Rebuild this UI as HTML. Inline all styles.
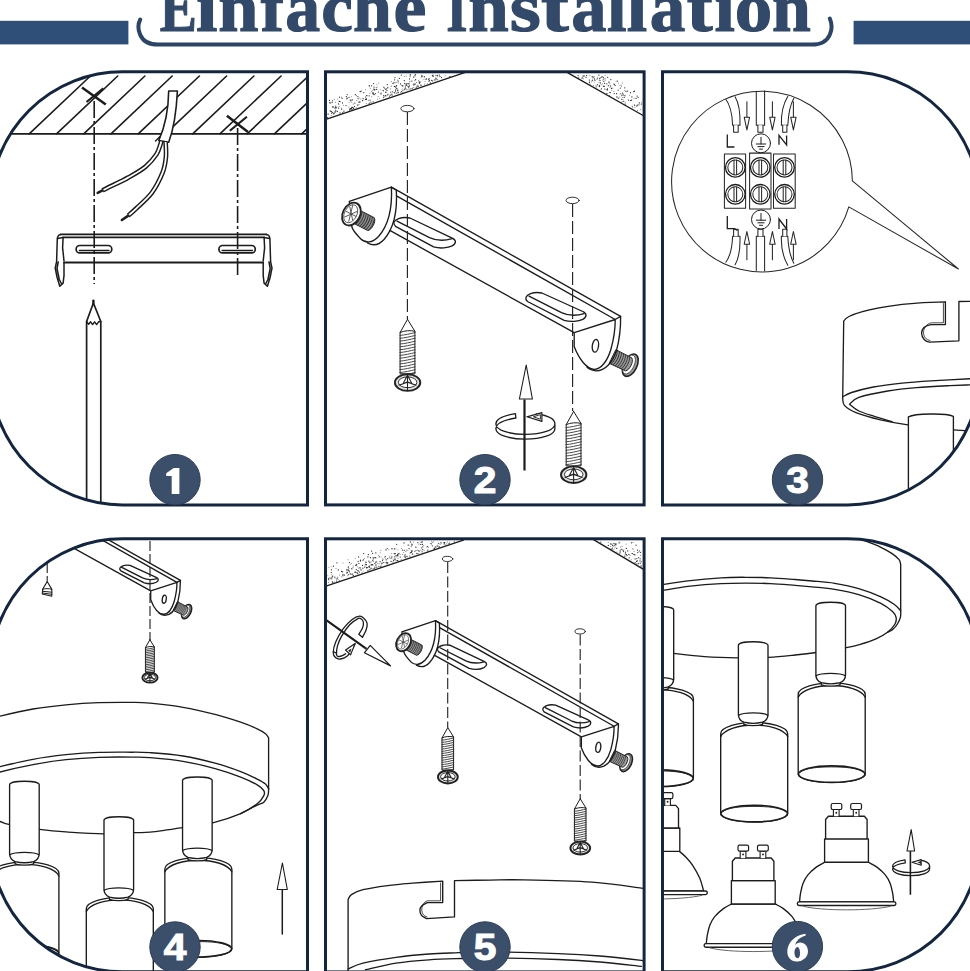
<!DOCTYPE html>
<html><head><meta charset="utf-8"><title>Einfache Installation</title>
<style>
html,body{margin:0;padding:0;background:#fff;}
body{width:970px;height:971px;overflow:hidden;position:relative;font-family:"Liberation Sans",sans-serif;}
svg{position:absolute;left:0;top:0;display:block;}
.ln{vector-effect:non-scaling-stroke;fill:none;stroke:#1c1c1c;stroke-width:1.35;stroke-linecap:round;stroke-linejoin:round;}
.lw{vector-effect:non-scaling-stroke;fill:#fff;stroke:#1c1c1c;stroke-width:1.35;stroke-linecap:round;stroke-linejoin:round;}
.th{fill:none;stroke:#1c1c1c;stroke-width:0.7;stroke-linecap:round;stroke-linejoin:round;}
.frame{fill:none;stroke:#14263f;stroke-width:3;}
.badge{fill:#3b4f6b;stroke:#2c3d55;stroke-width:1;}
.bnum{font-family:"Liberation Sans",sans-serif;font-weight:bold;font-size:36px;fill:#fff;text-anchor:middle;}
</style></head><body>
<svg width="970" height="971" viewBox="0 0 970 971">
<defs>
<clipPath id="c1"><path d="M307.5,71.8H122.4A132,132 0 0 0 -9.6,203.8V372.9A132,132 0 0 0 122.4,504.9H307.5Z"/></clipPath>
<clipPath id="c2"><rect x="325.5" y="71.8" width="318.6" height="433.1"/></clipPath>
<clipPath id="c3"><path d="M662.5,71.8H847.6A132,132 0 0 1 979.6,203.8V372.9A132,132 0 0 1 847.6,504.9H662.5Z"/></clipPath>
<clipPath id="c4"><path d="M307.5,538.8H122.4A132,132 0 0 0 -9.6,670.8V839.8A132,132 0 0 0 122.4,971.8H307.5Z"/></clipPath>
<clipPath id="c5"><rect x="325.5" y="538.8" width="318.6" height="433.1"/></clipPath>
<clipPath id="c6"><path d="M662.5,538.8H847.6A132,132 0 0 1 979.6,670.8V839.8A132,132 0 0 1 847.6,971.8H662.5Z"/></clipPath>
</defs>
<defs>
<g id="wscrew"><path class="lw" style="stroke-width:1" d="M0,0L-7.4,13.2V54.5H7.4V12L0,0Z"/><path class="ln" style="stroke-width:1" d="M-7.4,13.2C-3,11.2 3,10.8 7.4,12"/><path class="ln" style="stroke-width:0.9;stroke:#333" d="M-7.6,16.1C-3,15.9 3,14.3 7.6,13.3M-7.6,19.0C-3,18.8 3,17.2 7.6,16.2M-7.6,21.8C-3,21.6 3,20.0 7.6,19.0M-7.6,24.7C-3,24.5 3,22.9 7.6,21.9M-7.6,27.5C-3,27.3 3,25.7 7.6,24.7M-7.6,30.4C-3,30.2 3,28.6 7.6,27.6M-7.6,33.2C-3,33.0 3,31.4 7.6,30.4M-7.6,36.1C-3,35.9 3,34.3 7.6,33.3M-7.6,38.9C-3,38.7 3,37.1 7.6,36.1M-7.6,41.8C-3,41.6 3,40.0 7.6,39.0M-7.6,44.6C-3,44.4 3,42.8 7.6,41.8M-7.6,47.5C-3,47.3 3,45.7 7.6,44.7M-7.6,50.3C-3,50.1 3,48.5 7.6,47.5M-7.6,53.2C-3,53.0 3,51.4 7.6,50.4M-7.6,56.0C-3,55.8 3,54.2 7.6,53.2"/><ellipse cx="0.1" cy="63.3" rx="12.7" ry="8.3" fill="#e2e2e2" stroke="#222" stroke-width="1.9" vector-effect="non-scaling-stroke"/><ellipse cx="0.1" cy="63" rx="9.3" ry="5.4" fill="#fff" stroke="#333" stroke-width="1" vector-effect="non-scaling-stroke"/><path d="M0,56L-4.5,64.5L0,62.5L4.5,64.5ZM0,56V71M-9,66L0,63L9,66" fill="none" stroke="#222" stroke-width="1.1" vector-effect="non-scaling-stroke"/></g>
<g id="mscrew"><path d="M5,-7.2L22,-7.2C25.5,-5 25.5,5 22,7.2L5,7.2Z" fill="#8f8f8f" stroke="#222" stroke-width="1" vector-effect="non-scaling-stroke"/><path d="M8.5,-7C10.0,-3 10.0,3 8.5,7M10.8,-7C12.3,-3 12.3,3 10.8,7M13.1,-7C14.6,-3 14.6,3 13.1,7M15.4,-7C16.9,-3 16.9,3 15.4,7M17.7,-7C19.2,-3 19.2,3 17.7,7M20.0,-7C21.5,-3 21.5,3 20.0,7M22.3,-7C23.8,-3 23.8,3 22.3,7" fill="none" stroke="#333" stroke-width="0.9"/><ellipse cx="0" cy="0" rx="8.6" ry="12" fill="#fff" stroke="#222" stroke-width="1.8" vector-effect="non-scaling-stroke"/><ellipse cx="-0.8" cy="0" rx="6.2" ry="9.6" fill="none" stroke="#444" stroke-width="0.8"/><path d="M-5,-6L4,5M-5,6L4,-5M-6.5,0L5.5,0M-3,-9L1,8" fill="none" stroke="#444" stroke-width="0.8"/></g>
<g id="mscrew2"><ellipse cx="19.8" cy="0" rx="6.6" ry="12" fill="#9a9a9a" stroke="#222" stroke-width="1.6" vector-effect="non-scaling-stroke"/><ellipse cx="18.3" cy="0" rx="5.2" ry="10.2" fill="#fff" stroke="#333" stroke-width="0.8" vector-effect="non-scaling-stroke"/><path d="M0,-7.6L18,-7.2C21.5,-5 21.5,5 18,7.2L0,7.6Z" fill="#9a9a9a" stroke="#222" stroke-width="1" vector-effect="non-scaling-stroke"/><path d="M2.0,-7.2C3.5,-3 3.5,3 2.0,7.2M4.3,-7.2C5.8,-3 5.8,3 4.3,7.2M6.6,-7.2C8.1,-3 8.1,3 6.6,7.2M8.9,-7.2C10.4,-3 10.4,3 8.9,7.2M11.2,-7.2C12.7,-3 12.7,3 11.2,7.2M13.5,-7.2C15.0,-3 15.0,3 13.5,7.2M15.8,-7.2C17.3,-3 17.3,3 15.8,7.2" fill="none" stroke="#333" stroke-width="0.9"/></g>
<g id="brk"><path class="lw" d="M391.4,187.2L620.6,316.4L615.2,319.5L574.2,332.7L389.8,230.4Z" style="stroke:none"/><path class="lw" d="M349.3,201.3L391.4,187.2C392.3,205 389.5,224 378.5,236.5C372,243.5 365,243.2 360.6,238.8C356,234 352.5,229.5 351.9,227Z"/><path class="ln" d="M391.4,187.2L396.3,190.3C397.3,207 395,227 384,239.5C378,246 372,245.5 367.5,242.8"/><path class="ln" d="M391.4,187.2L620.6,316.4M396.5,195.8L615.2,319.5M389.8,230.4L574.2,332.7"/><path class="ln" d="M395.5,226.3C392.5,223.5 393.5,220.5 398.6,218.6C402,217.4 406,217.2 409.9,218L452.2,238.1C456.5,240 456.5,243.5 452.2,245.9C448,248 440,248.8 433.6,246.9Z"/><path class="ln" d="M397,221.1L429.5,237.6C435,240.2 444,241 452.2,238.7"/><path class="ln" d="M527.5,301.5C524.5,298.7 525.5,295.5 530.6,293.6C534,292.4 538,292.2 541.9,293L582.8,311.5C587.1,313.4 587.1,316.9 582.8,319.3C578.6,321.4 570.6,322.2 564.2,320.3Z"/><path class="ln" d="M529,296.1L561.5,312.6C567,315.2 576,316 584.2,313.7"/><path class="lw" d="M574.2,332.7L615.2,319.5C615.3,326 614,338 611,349C607.5,361 601,369.5 594,369.3C586,368.8 578.5,358 574.2,346.6Z"/><path class="ln" d="M615.2,319.5L620.6,316.4C620.8,326 619.5,339 616.5,350.5C612.5,362.5 605,371 596,370.8C592,370.6 589,369 587,367.3"/><ellipse class="ln" cx="595.4" cy="345.8" rx="3.1" ry="6.4" transform="rotate(8 595.4 345.8)"/></g>
</defs>
<defs>
<g id="lamp"><g transform="translate(1,0)"><path class="lw" d="M-33.5,92C-33.5,85 -15,80.6 0,80.6C15,80.6 33.5,85 33.5,92V171.8C33.5,176.4 18.5,180.1 0,180.1C-18.5,180.1 -33.5,176.4 -33.5,171.8Z"/><path class="ln" d="M-33.5,94.8C-30,87.5 -15,83.2 0,83.2C15,83.2 30,87.5 33.5,94.8"/><ellipse class="lw" style="stroke-width:1.7" cx="0" cy="171.8" rx="33.3" ry="8.3"/><path class="ln" style="stroke-width:0.9" d="M-31.5,170C-27,165.5 -12,164.6 0,164.6C12,164.6 27,165.5 31.5,170"/></g><path class="lw" d="M-9.3,79V82.6C-5,84.3 5,84.3 9.3,82.6V79Z"/><path class="ln" style="stroke-width:0.8" d="M-7,80.6C-3,79.4 3,79.4 7,80.6"/><path class="lw" d="M-14.8,3.6C-14.8,-1.2 14.8,-1.2 14.8,3.6V72.6C14.8,76.5 12.5,79 9.3,80.4C3,82 -3,82 -9.3,80.4C-12.5,79 -14.8,76.5 -14.8,72.6Z"/><path class="ln" d="M-14.6,73.5C-10,70.3 10,70.3 14.6,73.5"/></g>
</defs>
<defs>
<g id="bulb"><path class="lw" d="M-22,22.6H21.8V46H-22Z"/><path class="lw" d="M-21,22.6V3.2L-18.2,0H17.8L20.5,3.2V22.6Z"/><rect class="lw" x="-49.3" y="85.6" width="98.6" height="3.6" rx="1.8"/><path class="ln" style="stroke:#666;stroke-width:1" d="M-43.6,89.9C-25,94.8 25,94.8 44,89.9"/><path class="lw" style="stroke-width:1.1" d="M-13.2,0V-6.8H-7.5V0M6.7,0V-6.8H12.4V0"/><rect class="lw" style="stroke-width:1.2" x="-15.4" y="-12.8" width="10.6" height="6" rx="1.6"/><rect class="lw" style="stroke-width:1.2" x="4.1" y="-12.8" width="10.8" height="6" rx="1.6"/><circle cx="-10.3" cy="-3.6" r="0.95" fill="#222"/><circle cx="9.6" cy="-3.6" r="0.95" fill="#222"/></g>
</defs>
<!-- title -->
<rect x="0" y="20.8" width="128.4" height="23.6" fill="#2f4f78"/>
<rect x="853.6" y="20.8" width="116.4" height="23.6" fill="#2f4f78"/>
<path d="M140.2,19.5C136.5,27 138,44.6 158,44.6H812C832,44.6 833.5,27 829.8,18.5" fill="none" stroke="#2c4566" stroke-width="4" stroke-linecap="round"/>
<g font-family="Liberation Serif, serif" font-weight="bold" font-size="70" fill="#33496a" stroke="#33496a" stroke-width="1.2">
<text transform="translate(159.82,30.6) scale(0.796,1)">E</text>
<text transform="translate(196.01,30.6) scale(1.099,1)">i</text>
<text transform="translate(218.36,30.6) scale(1.032,1)">n</text>
<text transform="translate(260.70,30.6) scale(0.996,1)">f</text>
<text transform="translate(285.21,30.6) scale(0.997,1)">a</text>
<text transform="translate(321.37,30.6) scale(1.018,1)">c</text>
<text transform="translate(352.90,30.6) scale(0.997,1)">h</text>
<text transform="translate(393.60,30.6) scale(1.057,1)">e</text>
<text transform="translate(446.29,30.6) scale(0.781,1)">I</text>
<text transform="translate(468.15,30.6) scale(1.040,1)">n</text>
<text transform="translate(509.79,30.6) scale(1.142,1)">s</text>
<text transform="translate(541.10,30.6) scale(1.190,1)">t</text>
<text transform="translate(571.19,30.6) scale(1.006,1)">a</text>
<text transform="translate(607.00,30.6) scale(1.006,1)">l</text>
<text transform="translate(626.76,30.6) scale(1.050,1)">l</text>
<text transform="translate(649.77,30.6) scale(1.015,1)">a</text>
<text transform="translate(686.85,30.6) scale(1.108,1)">t</text>
<text transform="translate(714.56,30.6) scale(1.044,1)">i</text>
<text transform="translate(734.65,30.6) scale(1.071,1)">o</text>
<text transform="translate(771.90,30.6) scale(0.997,1)">n</text>
</g>
<!-- panel 1 -->
<g clip-path="url(#c1)">
<path class="ln" style="stroke-width:1.6" d="M1.9,133.9L63.2,76M29.2,133.9L90.4,76M56.5,133.9L117.7,76M83.7,133.9L144.9,76M111.0,133.9L172.2,76M138.2,133.9L199.4,76M165.4,133.9L226.6,76M192.7,133.9L253.9,76M219.9,133.9L281.1,76M247.2,133.9L308.4,76M274.4,133.9L335.6,76M301.7,133.9L362.9,76M328.9,133.9L390.1,76"/>
<path class="ln" style="stroke-width:1.8" d="M0,133.9H307"/>
<path class="ln" style="stroke-width:2.5;stroke-linecap:butt" d="M82,87.6L105.8,104.4M226.9,115.8L248,132"/>
<path class="ln" style="stroke-width:2.1;stroke-linecap:butt" d="M86.5,102L103.3,88.4M229.8,130.8L246.9,116.8"/>
<path class="ln" style="stroke-width:1.6;stroke-dasharray:17 3 3 3;stroke-linecap:butt" d="M94.2,101V284M237.6,128V278"/>
<path class="lw" style="stroke-width:1.6" d="M168.7,91C168.5,105 167,122 158.8,140.5L168.7,142.3C174,128 176.5,110 177.4,91Z"/>
<path class="ln" style="stroke-width:1.5" d="M160,136.5L155.5,141"/>
<path d="M161.2,141.5C161.0,142.1 161.1,142.8 160.3,144.9C159.5,147.0 158.9,150.6 156.5,154.2C154.1,157.8 150.2,162.7 145.6,166.6C140.9,170.5 135.0,173.8 128.6,177.4C122.2,181.0 111.3,186.0 107.0,188.2C102.7,190.4 103.2,190.0 102.5,190.4" fill="none" stroke="#1c1c1c" stroke-width="4.7" stroke-linecap="butt"/>
<path d="M161.2,141.5C161.0,142.1 161.1,142.8 160.3,144.9C159.5,147.0 158.9,150.6 156.5,154.2C154.1,157.8 150.2,162.7 145.6,166.6C140.9,170.5 135.0,173.8 128.6,177.4C122.2,181.0 111.3,186.0 107.0,188.2C102.7,190.4 103.2,190.0 102.5,190.4" fill="none" stroke="#fff" stroke-width="1.8" stroke-linecap="butt"/>
<path d="M102.5,190.4L97.7,192.8" fill="none" stroke="#1c1c1c" stroke-width="2.6" stroke-linecap="round"/>
<path d="M165.6,142.0C165.7,144.6 166.4,152.2 165.9,157.3C165.4,162.4 164.9,166.8 162.6,172.7C160.2,178.6 156.2,186.9 151.8,192.8C147.4,198.7 140.3,204.5 136.4,208.3C132.5,212.1 129.7,214.4 128.3,215.6" fill="none" stroke="#1c1c1c" stroke-width="4.7" stroke-linecap="butt"/>
<path d="M165.6,142.0C165.7,144.6 166.4,152.2 165.9,157.3C165.4,162.4 164.9,166.8 162.6,172.7C160.2,178.6 156.2,186.9 151.8,192.8C147.4,198.7 140.3,204.5 136.4,208.3C132.5,212.1 129.7,214.4 128.3,215.6" fill="none" stroke="#fff" stroke-width="1.8" stroke-linecap="butt"/>
<path d="M128.3,215.6L121.9,220" fill="none" stroke="#1c1c1c" stroke-width="2.6" stroke-linecap="round"/>
<path class="ln" style="stroke-width:1.8" d="M60.8,234.4H266.4M63.1,237.4H264.1M64,262.5H263.2"/>
<path class="ln" style="stroke-width:1.5" d="M60.8,234.4C58.3,234.8 57.5,236 57.3,238.5L56.6,261.7L55.2,268.2L57.1,277.5L59.8,286.3L63.1,283.1L64,275.7V262.5M63.1,237.4L62.6,247.8L64,260.8M58.2,262L57,268.5L59.3,279.5L61.6,284M57.8,238.5L62.8,237.6"/>
<g transform="translate(327.2,0) scale(-1,1)"><path class="ln" style="stroke-width:1.5" d="M60.8,234.4C58.3,234.8 57.5,236 57.3,238.5L56.6,261.7L55.2,268.2L57.1,277.5L59.8,286.3L63.1,283.1L64,275.7V262.5M63.1,237.4L62.6,247.8L64,260.8M58.2,262L57,268.5L59.3,279.5L61.6,284M57.8,238.5L62.8,237.6"/></g>
<rect class="ln" style="stroke-width:1.7" x="76.1" y="245.5" width="35.7" height="7.4" rx="3.7"/>
<path class="ln" style="stroke-width:1.3" d="M79.3,250.5H109.0"/>
<rect class="ln" style="stroke-width:1.7" x="218.9" y="245.5" width="36.4" height="7.4" rx="3.7"/>
<path class="ln" style="stroke-width:1.3" d="M222.1,250.5H252.5"/>
<path class="lw" style="stroke-width:1.7" d="M86.6,520V321.5L93.4,303L100.8,321.5V520"/>
<path class="ln" style="stroke-width:1.4" d="M86.6,321.5L88.6,324.3L90.6,321.8L92.6,324.6L94.6,321.8L96.6,324.6L98.6,321.8L100.8,321.5"/>
<path class="ln" style="stroke-width:2.4" d="M93.4,303V300.6"/>
</g>
<!-- panel 2 -->
<g clip-path="url(#c2)">
<path d="M385.7,89.3h.01M404.6,83.5h.01M392.9,83.6h.01M363.8,92.6h.01M415.0,83.9h.01M397.7,90.2h.01M352.0,109.4h.01M386.3,88.9h.01M369.2,103.2h.01M361.1,91.0h.01M373.6,83.5h.01M387.8,87.5h.01M429.3,78.8h.01M385.9,92.2h.01M410.3,74.7h.01M366.3,99.6h.01M413.4,84.8h.01M370.9,102.0h.01M405.3,87.8h.01M437.4,75.4h.01M351.5,108.2h.01M408.1,86.5h.01M406.1,83.9h.01M349.8,109.6h.01M409.5,85.9h.01M385.7,92.4h.01M404.3,89.6h.01M401.3,75.1h.01M424.3,76.5h.01M408.0,83.7h.01M410.1,76.1h.01M391.8,94.2h.01M353.6,108.4h.01M370.0,100.1h.01M366.9,95.7h.01M362.4,100.7h.01M352.4,99.8h.01M402.8,86.0h.01M339.5,97.2h.01M328.0,114.1h.01M419.5,83.2h.01M390.7,95.1h.01M394.0,82.7h.01M340.0,101.5h.01M414.8,84.5h.01M434.7,79.9h.01M334.9,108.0h.01M401.6,91.5h.01M334.0,113.7h.01M433.1,76.3h.01M392.7,91.8h.01M398.3,92.6h.01M400.5,83.9h.01M374.8,89.7h.01M352.9,107.3h.01M396.8,93.0h.01M420.1,82.1h.01M395.0,77.5h.01M387.3,84.7h.01M383.2,90.4h.01M351.9,107.4h.01M340.0,113.0h.01M358.9,102.2h.01M396.5,85.6h.01M397.9,90.3h.01M351.0,100.2h.01M366.7,95.6h.01M343.9,111.2h.01M383.7,97.6h.01M419.1,81.9h.01M394.6,92.6h.01M338.6,108.1h.01M398.2,81.0h.01M350.9,108.7h.01M441.6,77.5h.01M389.5,96.1h.01M394.4,86.4h.01M350.4,108.8h.01M426.5,78.9h.01M395.6,91.1h.01M409.5,78.9h.01M332.7,107.1h.01M412.0,88.7h.01M357.9,96.7h.01M331.7,113.2h.01M332.0,102.5h.01M346.0,105.6h.01M410.1,88.9h.01M406.8,85.2h.01M363.1,98.6h.01M421.8,75.4h.01M327.6,117.7h.01M429.4,80.5h.01M333.2,107.1h.01M355.3,94.7h.01M387.9,94.4h.01M331.4,111.5h.01M418.0,86.4h.01M432.4,75.7h.01M404.3,80.7h.01M333.5,113.8h.01M383.6,95.6h.01M334.7,112.1h.01M415.3,74.7h.01M390.7,92.1h.01M373.1,101.8h.01M431.5,80.3h.01M371.6,85.8h.01M335.6,111.8h.01M399.3,78.4h.01M432.7,80.9h.01M354.6,106.5h.01M374.2,94.7h.01M385.5,95.4h.01M449.7,76.5h.01M373.2,92.9h.01M360.1,91.7h.01M329.4,100.3h.01M436.2,78.8h.01M373.8,89.1h.01M332.7,112.3h.01M338.4,103.8h.01M330.1,103.1h.01M405.9,89.1h.01M350.8,108.5h.01M357.5,105.0h.01M347.3,98.0h.01M349.5,110.0h.01M435.8,78.1h.01M416.6,87.0h.01M408.7,87.2h.01M395.7,89.8h.01M342.1,98.3h.01M332.5,100.8h.01M422.1,76.5h.01M337.3,111.4h.01M396.7,88.4h.01M440.0,76.6h.01M365.6,97.0h.01M421.9,76.3h.01M376.7,89.4h.01M387.0,90.6h.01M409.1,83.8h.01M375.3,93.5h.01M359.7,101.9h.01M335.8,106.2h.01M336.7,107.8h.01M406.0,85.3h.01M341.7,109.2h.01M332.9,106.7h.01M381.0,93.9h.01M413.7,77.2h.01M369.1,95.8h.01M374.3,89.9h.01M433.1,75.9h.01M394.2,92.5h.01M349.0,97.3h.01M335.8,110.3h.01M373.2,93.9h.01M439.3,75.1h.01M346.8,98.8h.01M374.0,87.0h.01M350.3,100.2h.01M342.5,102.9h.01M395.1,86.5h.01M402.3,85.5h.01M414.9,75.8h.01M421.0,85.4h.01M428.5,79.2h.01M339.1,101.3h.01M398.0,92.0h.01M366.4,98.9h.01M342.8,112.6h.01M365.4,99.3h.01M329.9,102.4h.01M330.3,111.1h.01M369.3,85.7h.01M347.2,94.5h.01M383.9,87.2h.01M354.9,103.0h.01M346.3,96.7h.01M415.6,79.7h.01M411.8,81.0h.01M394.6,79.8h.01M335.5,107.7h.01M430.4,82.9h.01M429.0,81.2h.01M372.6,93.0h.01" fill="none" stroke="#2a2a2a" stroke-width="1.25" stroke-linecap="round"/><path d="M437.6,79.6h.01M386.0,95.6h.01M395.4,87.4h.01M353.2,104.1h.01M412.5,87.9h.01M360.7,98.9h.01M359.0,104.4h.01M349.7,108.3h.01M383.4,97.1h.01M406.7,83.5h.01M390.3,88.7h.01M445.1,75.8h.01M358.1,105.3h.01M402.1,88.9h.01M372.1,90.3h.01M426.1,78.8h.01M426.3,79.4h.01M369.3,86.7h.01M433.0,74.7h.01M403.0,85.4h.01M427.3,83.3h.01M386.1,95.9h.01M328.7,113.9h.01M406.2,75.9h.01M358.6,98.9h.01M435.6,75.6h.01M391.4,86.1h.01M409.8,81.3h.01M387.7,95.2h.01M331.1,115.5h.01M330.2,110.4h.01M384.5,88.6h.01M371.7,96.8h.01M409.9,81.8h.01M423.9,79.3h.01M351.3,96.7h.01M341.4,97.1h.01M420.7,84.7h.01M424.3,77.3h.01M394.9,93.2h.01M368.5,100.3h.01M370.3,88.2h.01M409.1,85.8h.01M436.3,75.4h.01M334.2,99.4h.01M350.8,100.9h.01M338.8,104.4h.01M404.3,76.4h.01M436.9,79.8h.01M376.9,84.7h.01M387.8,88.1h.01M414.7,80.5h.01M395.9,82.6h.01M357.7,98.5h.01M398.6,83.0h.01M413.7,87.4h.01M450.1,76.4h.01M437.7,76.7h.01M359.3,98.0h.01M397.7,89.0h.01M339.2,106.5h.01M418.6,80.4h.01M356.4,95.6h.01M337.6,99.0h.01M397.4,80.1h.01M384.0,95.7h.01M425.1,81.4h.01M363.1,99.9h.01M378.6,92.5h.01M378.1,96.4h.01M396.9,82.2h.01M401.4,85.4h.01M393.4,83.1h.01M414.9,84.8h.01M335.4,110.0h.01M343.4,105.2h.01M415.6,87.9h.01M395.8,87.7h.01M376.2,87.6h.01M391.0,86.2h.01M421.1,77.3h.01M416.5,82.5h.01M380.9,89.8h.01M351.8,102.2h.01M391.7,94.8h.01M369.9,93.1h.01M392.4,95.3h.01M396.4,86.6h.01M435.6,79.7h.01M360.2,101.9h.01M405.4,86.2h.01M381.5,93.0h.01M377.4,99.2h.01M379.4,98.2h.01M403.2,90.8h.01M377.1,86.9h.01M413.9,83.6h.01M378.6,91.8h.01M424.5,84.1h.01M404.7,88.8h.01M341.3,107.9h.01M400.7,92.2h.01M402.7,90.5h.01M341.5,109.4h.01M356.8,100.6h.01M418.1,85.3h.01M380.7,93.2h.01M383.4,90.9h.01M385.0,96.4h.01M365.5,89.8h.01M425.5,79.3h.01M394.6,92.6h.01M378.8,83.1h.01M356.3,107.8h.01M335.4,102.2h.01M371.7,91.6h.01M366.3,103.6h.01M348.3,107.0h.01M340.0,112.3h.01M421.4,75.9h.01M417.1,85.2h.01M407.1,89.8h.01M408.3,88.9h.01M349.1,102.5h.01M402.7,92.4h.01M391.3,81.6h.01" fill="none" stroke="#777" stroke-width="1.05" stroke-linecap="round"/><path class="ln" d="M464.6,72.6L326,119.4"/>
<path d="M608.3,85.7h.01M621.8,95.1h.01M641.3,104.0h.01M637.1,96.1h.01M601.4,88.9h.01M583.3,76.0h.01M618.1,90.0h.01M623.2,94.9h.01M610.7,86.0h.01M636.1,98.4h.01M603.3,86.1h.01M631.9,96.9h.01M624.9,95.7h.01M593.2,77.3h.01M608.9,82.0h.01M589.4,82.5h.01M606.9,93.3h.01M631.6,100.1h.01M614.3,84.4h.01M636.8,106.1h.01M627.6,91.0h.01M638.9,104.8h.01M633.7,91.7h.01M599.7,78.4h.01M600.4,82.9h.01M615.1,85.6h.01M610.5,92.5h.01M603.8,81.6h.01M621.8,99.3h.01M622.7,93.2h.01M607.3,89.9h.01M584.2,75.9h.01M586.6,75.5h.01M624.2,97.3h.01M610.8,79.5h.01M597.4,78.0h.01M578.7,77.8h.01M598.9,75.0h.01M592.2,76.6h.01M611.6,88.4h.01M638.1,97.3h.01M630.5,92.7h.01M639.3,102.9h.01M582.0,78.2h.01M623.7,101.3h.01M620.3,88.1h.01M606.8,83.8h.01M626.0,91.4h.01M604.6,83.3h.01M600.0,80.5h.01M607.5,88.9h.01M602.1,76.7h.01M599.6,85.3h.01M625.1,104.0h.01M614.2,93.6h.01M594.9,80.1h.01M604.9,89.1h.01M586.0,77.3h.01M594.4,78.8h.01M604.3,86.4h.01M599.5,86.5h.01M597.4,84.5h.01M601.0,77.5h.01M607.7,77.3h.01M589.4,80.8h.01M578.1,75.6h.01M603.4,77.5h.01M616.6,93.7h.01M634.5,91.1h.01M618.3,98.2h.01M596.1,86.8h.01M634.7,105.3h.01M624.8,87.8h.01M592.3,80.6h.01M628.5,100.0h.01M616.9,96.8h.01M617.4,81.0h.01M637.3,105.1h.01M630.5,100.6h.01" fill="none" stroke="#2a2a2a" stroke-width="1.25" stroke-linecap="round"/><path d="M598.2,85.9h.01M622.6,83.0h.01M602.4,83.7h.01M594.2,81.9h.01M605.1,75.5h.01M621.7,95.7h.01M589.9,75.6h.01M594.1,76.6h.01M582.9,76.1h.01M599.0,82.5h.01M617.0,97.4h.01M590.3,83.9h.01M618.5,83.0h.01M619.9,85.5h.01M625.2,102.3h.01M637.5,110.4h.01M641.6,102.1h.01M599.4,79.9h.01M622.9,99.2h.01M597.0,79.5h.01M609.0,81.9h.01M632.5,106.4h.01M604.2,78.8h.01M624.7,90.2h.01M596.1,85.3h.01M609.8,95.4h.01M591.6,81.7h.01M621.3,84.9h.01M620.7,93.4h.01M605.1,80.3h.01M601.3,84.7h.01M582.3,77.5h.01M595.0,80.3h.01M619.7,97.0h.01M609.2,82.8h.01M602.8,80.1h.01M592.5,78.9h.01M610.2,85.4h.01M605.4,78.7h.01M622.8,97.5h.01M606.4,89.2h.01M621.4,86.2h.01M632.1,106.1h.01M629.4,95.2h.01M613.6,83.7h.01M589.3,79.4h.01M632.7,107.7h.01M620.0,94.0h.01M609.9,83.8h.01M616.1,81.2h.01M610.0,87.6h.01M603.4,79.5h.01M634.9,107.2h.01M583.5,78.7h.01M611.7,90.3h.01M634.2,104.6h.01M613.9,91.4h.01M609.8,92.5h.01M634.0,98.2h.01M609.5,92.5h.01M612.8,88.1h.01M593.9,77.2h.01M621.8,102.1h.01M593.4,85.4h.01M640.8,109.6h.01M622.8,101.3h.01M623.7,94.8h.01" fill="none" stroke="#777" stroke-width="1.05" stroke-linecap="round"/><path class="ln" d="M567.9,72.8L644,116"/>
<ellipse class="ln" style="stroke-width:0.9" cx="407.4" cy="108.6" rx="6.6" ry="3.2"/><ellipse class="ln" style="stroke-width:0.9" cx="572.6" cy="200.4" rx="6.6" ry="3.2"/>
<use href="#mscrew2" transform="translate(612.5,356.5) rotate(26)"/>
<use href="#brk"/>
<use href="#mscrew" transform="translate(351.4,214.1) rotate(27)"/>
<path class="ln" style="stroke-width:1.15;stroke-dasharray:13 4;stroke-linecap:butt;stroke:#262626" d="M407.4,112V319M572.6,204V411"/>
<use href="#wscrew" transform="translate(407.5,319.3)"/>
<use href="#wscrew" transform="translate(573.6,411.4)"/>
<path class="ln" style="stroke-width:2.2;stroke-linecap:butt" d="M524.5,399.5V470.5"/>
<path class="lw" style="stroke-width:1.1" d="M526.2,365L519.4,399H532.4Z"/>
<g transform="translate(-0.6,-2.6)"><path class="ln" style="stroke-width:1.3" d="M516,416.2C504,418.3 496.5,422 496.5,426.5C496.5,432.5 509.5,437 526,437C542.5,437 555.5,432.5 555.5,426.5C555.5,421.5 548,417.8 537,416.4M516.5,420.6C506,422.4 496.5,426 496.5,431.3C496.5,437.3 509.5,441.8 526,441.8C542.5,441.8 555.5,437.3 555.5,431.3V426.5M516,416.2L516.5,420.6"/><path class="lw" style="stroke-width:1.2" d="M527.5,419.4L542.5,415.2V424Z"/><path d="M534,419.4L541,417.2V421.8Z" fill="none" stroke="#1c1c1c" stroke-width="0.9"/></g>
</g>
<!-- panel 3 -->
<g clip-path="url(#c3)">
<clipPath id="cc3"><circle cx="763.9" cy="180.8" r="90.4"/></clipPath>
<g clip-path="url(#cc3)">
<path class="lw" style="stroke-width:1.05;stroke:#262626" d="M725.5,98.7C730.5,105.2 732.3,116.2 732.6,125.2H740.0C740.3,115.2 739.0,103.2 735.1,96.7"/>
<path class="lw" style="stroke-width:1.05;stroke:#262626" d="M756.3,90.2V125.2H764.6V90.2"/>
<path class="lw" style="stroke-width:1.05;stroke:#262626" d="M787.8,96.2C782.5,105.2 781.0,116.2 781.4,125.2H787.8C788.3,115.2 790.0,105.2 793.8,98.2"/>
<path class="lw" style="stroke-width:1.05;stroke:#262626" d="M733.6,125.2V132.2H738.2V125.2"/>
<path class="lw" style="stroke-width:1.05;stroke:#262626" d="M757.9,125.2V132.2H763V125.2"/>
<path class="lw" style="stroke-width:1.05;stroke:#262626" d="M782.7,125.2V132.2H786.9V125.2"/>
<path class="ln" style="stroke-width:1.05;stroke:#262626" d="M746.9,101.7V117.2"/>
<path class="lw" style="stroke-width:1.05;stroke:#262626" d="M744.2,117.2H749.6L746.9,129.9Z"/>
<path class="ln" style="stroke-width:1.05;stroke:#262626" d="M772.4,101.7V117.2"/>
<path class="lw" style="stroke-width:1.05;stroke:#262626" d="M769.7,117.2H775.1L772.4,129.9Z"/>
<path class="ln" style="stroke-width:1.05;stroke:#262626" d="M793.4,101.7V117.2"/>
<path class="lw" style="stroke-width:1.05;stroke:#262626" d="M790.7,117.2H796.1L793.4,129.9Z"/>
<path class="lw" style="stroke-width:1.05;stroke:#262626" d="M725.5,262.7C730.5,256.2 732.3,245.2 732.6,236.2H740.0C740.3,246.2 739.0,258.2 735.1,264.7"/>
<path class="lw" style="stroke-width:1.05;stroke:#262626" d="M756.3,271.2V236.2H764.6V271.2"/>
<path class="lw" style="stroke-width:1.05;stroke:#262626" d="M787.8,265.2C782.5,256.2 781.0,245.2 781.4,236.2H787.8C788.3,246.2 790.0,256.2 793.8,263.2"/>
<path class="lw" style="stroke-width:1.05;stroke:#262626" d="M733.6,236.2V229.2H738.2V236.2"/>
<path class="lw" style="stroke-width:1.05;stroke:#262626" d="M757.9,236.2V229.2H763V236.2"/>
<path class="lw" style="stroke-width:1.05;stroke:#262626" d="M782.7,236.2V229.2H786.9V236.2"/>
<path class="ln" style="stroke-width:1.05;stroke:#262626" d="M746.9,259.7V244.2"/>
<path class="lw" style="stroke-width:1.05;stroke:#262626" d="M744.2,244.2H749.6L746.9,231.5Z"/>
<path class="ln" style="stroke-width:1.05;stroke:#262626" d="M772.4,259.7V244.2"/>
<path class="lw" style="stroke-width:1.05;stroke:#262626" d="M769.7,244.2H775.1L772.4,231.5Z"/>
<path class="ln" style="stroke-width:1.05;stroke:#262626" d="M793.4,259.7V244.2"/>
<path class="lw" style="stroke-width:1.05;stroke:#262626" d="M790.7,244.2H796.1L793.4,231.5Z"/>
</g>
<path class="ln" style="stroke-width:1.05;stroke:#262626" d="M724.4,154H745.6V208.3H724.4ZM749.6,153.1H771V209H749.6ZM773.5,154H795.2V208.3H773.5Z"/>
<circle class="ln" style="stroke-width:1.3" cx="735.3" cy="167.4" r="9.8"/><circle class="ln" style="stroke-width:1.05;stroke:#262626" cx="735.3" cy="167.4" r="7.5"/><path class="ln" style="stroke-width:1.05;stroke:#262626" d="M734.0,160.0V174.8M736.6,160.0V174.8"/>
<circle class="ln" style="stroke-width:1.3" cx="735.3" cy="194.3" r="9.8"/><circle class="ln" style="stroke-width:1.05;stroke:#262626" cx="735.3" cy="194.3" r="7.5"/><path class="ln" style="stroke-width:1.05;stroke:#262626" d="M734.0,186.9V201.7M736.6,186.9V201.7"/>
<circle class="ln" style="stroke-width:1.3" cx="760.3" cy="167.4" r="9.8"/><circle class="ln" style="stroke-width:1.05;stroke:#262626" cx="760.3" cy="167.4" r="7.5"/><path class="ln" style="stroke-width:1.05;stroke:#262626" d="M759.0,160.0V174.8M761.6,160.0V174.8"/>
<circle class="ln" style="stroke-width:1.3" cx="760.3" cy="194.3" r="9.8"/><circle class="ln" style="stroke-width:1.05;stroke:#262626" cx="760.3" cy="194.3" r="7.5"/><path class="ln" style="stroke-width:1.05;stroke:#262626" d="M759.0,186.9V201.7M761.6,186.9V201.7"/>
<circle class="ln" style="stroke-width:1.3" cx="784.5" cy="167.4" r="9.8"/><circle class="ln" style="stroke-width:1.05;stroke:#262626" cx="784.5" cy="167.4" r="7.5"/><path class="ln" style="stroke-width:1.05;stroke:#262626" d="M783.2,160.0V174.8M785.8,160.0V174.8"/>
<circle class="ln" style="stroke-width:1.3" cx="784.5" cy="194.3" r="9.8"/><circle class="ln" style="stroke-width:1.05;stroke:#262626" cx="784.5" cy="194.3" r="7.5"/><path class="ln" style="stroke-width:1.05;stroke:#262626" d="M783.2,186.9V201.7M785.8,186.9V201.7"/>
<circle class="lw" style="stroke-width:1" cx="761" cy="143.3" r="9.5"/><path class="ln" style="stroke-width:1" d="M761,137.3V144.0M756.3,144.0H765.7M757.9,146.6H764.1M759.5,149.1H762.5"/>
<circle class="lw" style="stroke-width:1" cx="761" cy="219.5" r="9.5"/><path class="ln" style="stroke-width:1" d="M761,213.5V220.2M756.3,220.2H765.7M757.9,222.8H764.1M759.5,225.3H762.5"/>
<path class="ln" style="stroke-width:1.3;stroke-linecap:butt;stroke-linejoin:miter" d="M727.3,134.6V147H734.4M727.3,216.1V228.6H734.4L737.5,230.5"/>
<path class="ln" style="stroke-width:1.3;stroke-linecap:butt;stroke-linejoin:miter" d="M779,144.8V135.4L786.6,144.8V135.4M779,229V219L786.6,229V219"/>
<path class="ln" style="stroke-width:1.05;stroke:#262626" d="M852.4,180.9A90.4,90.4 0 1 0 848.8,206.9L958.4,269L852.4,180.9"/>
<path d="M843.7,321C848,314 870,308.5 902.2,304.4C920,302.5 935,302 945.4,301.8V324.6H931C925,325.5 921.6,329 921.6,333.3C921.8,338.5 925.5,341.8 929.6,342.2L958.9,340.8V301.5L990,301V420H842.7Z" fill="#fff"/>
<path class="ln" d="M842.7,398.2L843.7,321C848,314 870,308.5 902.2,304.4C920,302.5 935,302 945.4,301.8V324.6H931C925,325.5 921.6,329 921.6,333.3C921.8,338.5 925.5,341.8 929.6,342.2L958.9,340.8V301.5L990,301"/>
<path class="ln" style="stroke-width:0.8" d="M943.4,303.5V322.8H931.5C926.5,323.8 923.4,328 923.5,333.3C923.8,337.5 926.5,340 930,340.5"/>
<path class="lw" d="M842.7,396.8C844.2,396.1 846.5,394.1 851.6,392.5C856.7,390.9 864.9,388.6 873.3,387.0C881.7,385.4 892.6,384.1 902.2,383.1C911.8,382.1 919.7,381.6 931.0,380.9C942.3,380.2 960.2,379.2 970.0,378.7C979.8,378.2 986.7,378.1 990.0,378.0L990,431.7C983.9,431.4 967.0,430.9 953.3,429.8C939.6,428.7 920.0,426.5 907.9,424.9C895.8,423.2 889.1,421.9 880.5,419.9C871.9,417.9 862.0,415.1 856.0,412.7C850.0,410.3 846.6,407.8 844.4,405.4C842.2,403.0 843.0,399.4 842.7,398.2Z"/>
<path class="ln" d="M849.5,404.2C851.1,403.1 852.5,399.6 858.9,397.4C865.3,395.2 878.1,392.6 887.7,391.0C897.3,389.4 906.2,388.5 916.6,387.6C927.0,386.7 937.8,386.2 950.0,385.6C962.2,385.1 983.3,384.5 990.0,384.3M849.5,404.2C851.1,405.3 854.6,408.9 858.9,411.0C863.1,413.1 869.5,414.8 875.0,416.6C880.5,418.4 889.2,420.8 892.0,421.6"/>
<path class="lw" d="M908.4,520V416.8C915,413.5 945,412.8 953.4,416.3V520Z"/>
</g>
<!-- panel 4 -->
<g clip-path="url(#c4)">
<g transform="translate(180.4,580.4) scale(0.64) translate(-620.6,-316.4)"><use href="#mscrew2" transform="translate(612.5,356.5) rotate(26)"/><use href="#brk"/></g>
<path class="ln" style="stroke-width:1.15;stroke-dasharray:10 3;stroke-linecap:butt;stroke:#262626" d="M150,541V640M47.2,563V581.5"/>
<use href="#wscrew" transform="translate(149.9,639.7) scale(0.6)"/>
<path class="lw" style="stroke-width:1.1" d="M47.2,581.5L42.6,589.4L42.3,594L51.8,596.2V589.4Z"/><path class="ln" style="stroke-width:1" d="M42.6,589.4C45,588.3 49,588.3 51.8,589.4M42.5,591.3L51.8,592.2M42.4,593L51.8,594.3"/>
<path d="M-15.0,720.5C-12.5,719.8 -8.0,718.0 0.0,716.1C8.0,714.2 22.0,710.9 33.0,709.0C44.0,707.1 55.0,705.8 66.0,704.8C77.0,703.8 88.0,703.1 99.0,702.7C110.0,702.3 123.5,702.3 132.0,702.4C140.5,702.5 141.5,702.4 150.0,703.2C158.5,704.0 172.0,705.4 183.0,707.3C194.0,709.2 206.4,712.2 216.0,714.7C225.6,717.2 233.8,719.9 240.7,722.2C247.6,724.6 253.1,726.9 257.2,728.8C261.3,730.7 263.6,732.2 265.5,733.7C267.4,735.2 268.1,737.1 268.6,737.8V789C268.6,790.1 268.7,793.4 267.9,795.6C267.1,797.8 265.6,800.6 263.8,802.2C262.0,803.8 261.1,803.3 257.2,805.2C253.3,807.1 243.4,812.3 240.7,813.7C236.0,815.2 222.4,820.5 212.7,822.8C203.0,825.1 192.9,826.1 182.5,827.7C172.1,829.3 158.2,831.4 150.0,832.2C141.8,833.0 141.3,832.4 133.6,832.7C125.9,833.0 115.3,833.9 104.0,833.8C92.7,833.7 76.7,832.6 66.0,831.9C55.3,831.2 49.1,830.6 39.6,829.4C30.1,828.1 15.6,825.7 9.0,824.4C2.4,823.1 4.0,822.7 0.0,821.5C-4.0,820.3 -12.5,817.8 -15.0,817.0Z" fill="#fff"/>
<path class="ln" d="M-15.0,720.5C-12.5,719.8 -8.0,718.0 0.0,716.1C8.0,714.2 22.0,710.9 33.0,709.0C44.0,707.1 55.0,705.8 66.0,704.8C77.0,703.8 88.0,703.1 99.0,702.7C110.0,702.3 123.5,702.3 132.0,702.4C140.5,702.5 141.5,702.4 150.0,703.2C158.5,704.0 172.0,705.4 183.0,707.3C194.0,709.2 206.4,712.2 216.0,714.7C225.6,717.2 233.8,719.9 240.7,722.2C247.6,724.6 253.1,726.9 257.2,728.8C261.3,730.7 263.6,732.2 265.5,733.7C267.4,735.2 268.1,737.1 268.6,737.8V789C268.6,790.1 268.7,793.4 267.9,795.6C267.1,797.8 265.6,800.6 263.8,802.2C262.0,803.8 261.1,803.3 257.2,805.2C253.3,807.1 243.4,812.3 240.7,813.7"/>
<path class="ln" d="M-15.0,771.5C-12.5,770.7 -8.0,768.7 0.0,766.7C8.0,764.7 22.0,761.3 33.0,759.3C44.0,757.3 55.0,755.9 66.0,754.7C77.0,753.6 88.0,752.8 99.0,752.4C110.0,752.0 123.5,752.2 132.0,752.2C140.5,752.2 141.5,752.1 150.0,752.7C158.5,753.3 172.0,754.2 183.0,756.0C194.0,757.8 206.4,760.8 216.0,763.4C225.6,766.0 233.8,769.0 240.7,771.6C247.6,774.2 253.1,777.0 257.2,779.1C261.3,781.2 263.6,782.4 265.5,784.0C267.4,785.6 268.2,788.2 268.8,789.0"/>
<path class="ln" d="M-15.0,777.0C-12.5,776.2 -8.0,774.1 0.0,772.0C8.0,769.9 22.0,766.7 33.0,764.6C44.0,762.5 55.0,760.8 66.0,759.6C77.0,758.4 88.0,757.7 99.0,757.3C110.0,756.9 123.5,757.0 132.0,757.1C140.5,757.2 141.5,756.9 150.0,757.6C158.5,758.3 172.0,759.4 183.0,761.3C194.0,763.2 206.4,766.2 216.0,768.8C225.6,771.4 233.8,774.4 240.7,777.1C247.6,779.8 253.3,782.5 257.2,784.8C261.1,787.0 262.7,788.8 263.8,790.6C264.9,792.4 264.9,793.4 263.8,795.6C262.7,797.8 261.1,800.8 257.2,803.8C253.3,806.8 248.1,810.5 240.7,813.7C233.3,816.9 222.4,820.5 212.7,822.8C203.0,825.1 192.9,826.1 182.5,827.7C172.1,829.3 158.2,831.4 150.0,832.2C141.8,833.0 141.3,832.4 133.6,832.7C125.9,833.0 115.3,833.9 104.0,833.8C92.7,833.7 76.7,832.6 66.0,831.9C55.3,831.2 49.1,830.6 39.6,829.4C30.1,828.1 15.6,825.7 9.0,824.4C2.4,823.1 4.0,822.7 0.0,821.5C-4.0,820.3 -12.5,817.8 -15.0,817.0"/>
<use href="#lamp" transform="translate(24.4,781.2)"/>
<use href="#lamp" transform="translate(197.35,777)"/>
<use href="#lamp" transform="translate(118.8,816.7)"/>
<path class="ln" style="stroke-width:1.5" d="M282.3,889.5V934"/><path class="lw" style="stroke-width:1.1" d="M282.4,863L277.2,889.5H287.3Z"/>
</g>
<!-- panel 5 -->
<g clip-path="url(#c5)">
<path d="M346.8,572.9h.01M357.8,573.5h.01M357.0,572.7h.01M328.7,578.6h.01M373.2,558.9h.01M385.3,556.5h.01M350.5,573.9h.01M444.2,543.9h.01M336.9,562.8h.01M386.2,559.8h.01M348.1,569.6h.01M366.6,567.4h.01M332.7,576.1h.01M404.2,550.3h.01M332.7,582.4h.01M346.6,569.9h.01M367.9,556.9h.01M397.8,560.7h.01M342.9,575.7h.01M386.3,562.4h.01M444.0,542.7h.01M368.9,566.4h.01M354.9,572.2h.01M434.3,548.7h.01M365.9,562.1h.01M394.8,559.5h.01M331.2,572.5h.01M363.7,553.6h.01M394.2,553.7h.01M380.7,566.3h.01M437.4,546.0h.01M375.4,557.7h.01M411.3,552.4h.01M439.0,547.2h.01M366.5,564.7h.01M344.5,575.0h.01M422.1,551.8h.01M368.9,561.2h.01M369.8,569.9h.01M358.6,556.9h.01M362.9,568.2h.01M355.8,565.4h.01M398.3,553.7h.01M394.4,548.9h.01M348.3,567.2h.01M405.3,557.3h.01M449.2,543.6h.01M369.8,562.7h.01M331.4,569.8h.01M395.1,559.1h.01M332.0,577.2h.01M391.9,556.9h.01M395.3,553.6h.01M439.2,546.6h.01M348.7,574.5h.01M454.3,541.8h.01M372.8,560.5h.01M375.0,567.1h.01M404.9,557.0h.01M394.7,556.8h.01M427.6,546.6h.01M375.8,562.2h.01M358.9,563.3h.01M372.6,553.3h.01M387.2,548.5h.01M374.9,563.3h.01M371.6,551.0h.01M431.3,543.8h.01M334.8,577.1h.01M361.0,569.9h.01M351.8,568.8h.01M422.7,549.7h.01M410.4,541.9h.01M381.7,563.8h.01M406.9,556.3h.01M412.3,553.9h.01M373.1,568.9h.01M392.0,548.8h.01M387.7,562.7h.01M405.2,554.9h.01M369.6,567.2h.01M349.5,571.1h.01M410.2,552.8h.01M397.4,555.4h.01M397.7,554.4h.01M357.9,570.7h.01M397.0,560.6h.01M374.6,568.2h.01M402.5,550.0h.01M422.8,546.8h.01M378.9,566.3h.01M337.2,578.2h.01M434.6,548.6h.01M408.1,545.0h.01M352.3,574.2h.01M382.5,560.5h.01M328.7,579.7h.01M387.2,563.5h.01M438.7,543.3h.01M369.3,566.0h.01M409.1,548.6h.01M412.2,544.8h.01M416.5,553.4h.01M343.0,574.3h.01M333.5,566.2h.01M411.7,551.6h.01M379.3,556.8h.01M370.4,557.7h.01M371.7,564.7h.01M368.0,570.9h.01M427.9,550.0h.01M365.3,564.5h.01M432.3,545.8h.01M391.0,558.2h.01M422.4,544.4h.01M375.8,552.9h.01M355.7,572.1h.01M366.0,562.4h.01M372.7,564.6h.01M332.4,581.8h.01M353.3,575.4h.01M419.1,551.1h.01M358.1,561.3h.01M362.1,573.0h.01M356.7,564.3h.01M338.3,569.9h.01M417.8,542.5h.01M396.7,544.3h.01M383.8,562.5h.01M382.9,559.1h.01M376.0,564.9h.01M356.3,569.6h.01M441.1,542.9h.01M387.7,558.6h.01M349.4,562.6h.01M348.3,570.7h.01M400.2,557.0h.01M422.3,541.9h.01M359.5,572.0h.01M393.6,560.5h.01M331.8,578.8h.01M386.0,549.9h.01M360.5,560.1h.01M342.5,571.8h.01M391.9,548.7h.01M435.8,547.1h.01M382.0,563.6h.01M360.4,560.6h.01M356.3,565.1h.01M376.8,567.2h.01M411.8,544.1h.01M404.9,556.9h.01M347.3,572.7h.01M360.2,567.9h.01M368.4,554.5h.01M358.1,570.8h.01M411.9,550.7h.01M391.1,561.4h.01M367.8,567.6h.01M371.0,565.0h.01M380.1,561.7h.01M404.1,542.9h.01M415.7,547.0h.01M396.0,555.7h.01M411.2,546.0h.01M444.7,542.5h.01M362.5,565.4h.01M418.0,553.5h.01M371.2,568.6h.01M420.7,544.3h.01M374.0,557.6h.01M336.7,581.1h.01M363.5,559.8h.01M421.1,542.0h.01M351.8,568.7h.01M341.5,571.4h.01" fill="none" stroke="#2a2a2a" stroke-width="1.25" stroke-linecap="round"/><path d="M351.4,563.3h.01M375.7,565.2h.01M445.8,544.8h.01M448.4,543.7h.01M338.0,579.5h.01M401.2,559.6h.01M353.2,566.1h.01M371.0,561.7h.01M416.2,547.2h.01M357.3,566.8h.01M343.0,562.9h.01M389.8,556.1h.01M355.2,558.3h.01M440.1,544.5h.01M403.6,552.8h.01M365.6,563.9h.01M419.2,551.8h.01M414.0,555.0h.01M405.8,557.9h.01M421.6,547.6h.01M330.5,578.6h.01M334.2,581.7h.01M358.6,568.0h.01M362.4,560.2h.01M339.2,580.4h.01M418.8,544.1h.01M331.2,566.8h.01M384.8,557.2h.01M358.7,571.0h.01M393.0,561.7h.01M447.3,541.9h.01M413.3,542.1h.01M420.8,550.3h.01M376.7,561.3h.01M426.3,546.9h.01M418.1,550.5h.01M380.8,550.3h.01M348.9,568.6h.01M327.8,575.8h.01M373.0,557.6h.01M433.7,541.8h.01M328.8,567.2h.01M406.5,549.9h.01M372.9,565.2h.01M336.0,568.5h.01M395.8,548.8h.01M398.0,558.2h.01M353.0,567.6h.01M377.9,563.2h.01M409.6,555.7h.01M428.4,547.2h.01M397.9,556.3h.01M350.3,564.2h.01M427.3,551.0h.01M398.3,555.8h.01M416.8,553.6h.01M396.2,557.0h.01M412.2,551.1h.01M438.0,545.0h.01M435.6,547.1h.01M401.5,548.5h.01M352.0,574.0h.01M376.1,557.9h.01M405.8,551.4h.01M351.6,574.3h.01M446.3,543.7h.01M391.6,553.7h.01M347.7,575.7h.01M381.2,566.1h.01M404.1,556.3h.01M369.0,569.5h.01M447.4,541.9h.01M416.6,553.6h.01M339.4,574.9h.01M386.2,563.8h.01M381.2,557.0h.01M366.6,568.4h.01M416.0,550.6h.01M360.5,561.3h.01M417.1,549.9h.01M361.2,569.5h.01M393.2,559.0h.01M394.9,558.9h.01M423.7,545.5h.01M364.4,558.2h.01M328.6,582.2h.01M400.1,554.5h.01M440.7,542.3h.01M337.8,576.9h.01M432.3,542.5h.01M336.6,579.1h.01M341.3,576.7h.01M412.5,554.5h.01M331.8,574.8h.01M373.3,561.4h.01M364.8,566.0h.01M410.2,556.6h.01M408.9,545.0h.01M449.5,542.0h.01M418.6,550.6h.01M364.4,567.5h.01M388.9,549.7h.01M380.2,552.8h.01M371.0,567.9h.01M347.3,571.0h.01M424.2,550.3h.01M379.1,563.7h.01M405.7,556.8h.01M385.3,558.7h.01M376.3,562.3h.01M414.6,551.3h.01M378.6,555.5h.01M430.5,543.4h.01M348.3,566.2h.01M415.7,550.8h.01M370.6,569.0h.01M394.4,548.7h.01M363.1,571.0h.01M331.0,577.5h.01M407.5,556.7h.01M404.6,555.2h.01M399.3,553.2h.01M421.8,548.4h.01M367.5,570.2h.01M431.8,541.6h.01M359.5,567.8h.01M433.4,549.1h.01M389.4,557.8h.01M329.4,577.8h.01M414.9,551.6h.01M348.0,559.8h.01M382.0,562.4h.01M365.2,566.8h.01M349.5,572.7h.01M411.2,550.3h.01M395.5,560.0h.01M436.8,546.0h.01M398.0,549.7h.01M402.6,554.4h.01M373.7,558.1h.01M434.6,547.1h.01M407.8,550.2h.01M335.1,578.0h.01M393.0,562.3h.01" fill="none" stroke="#777" stroke-width="1.05" stroke-linecap="round"/><path class="ln" d="M463.4,540.2L326,586.1"/>
<path d="M640.3,563.1h.01M625.3,553.9h.01M626.4,554.6h.01M641.0,566.1h.01M623.5,551.6h.01M612.3,548.8h.01M619.1,542.9h.01M612.6,545.3h.01M628.9,554.4h.01M621.8,549.4h.01M631.5,542.8h.01M611.2,549.0h.01M632.5,553.6h.01M614.3,545.1h.01M640.0,560.9h.01M640.1,558.8h.01M633.9,554.3h.01M608.3,545.4h.01M620.3,551.8h.01M636.9,563.8h.01M638.7,557.5h.01M615.7,543.9h.01M637.8,552.6h.01M627.7,550.9h.01M637.3,560.8h.01M634.9,554.9h.01M636.9,558.6h.01M614.0,543.4h.01M611.8,544.1h.01M600.8,542.1h.01M636.6,561.4h.01M620.1,550.1h.01M636.0,545.2h.01M610.5,543.9h.01M627.0,555.6h.01M626.3,548.4h.01M638.6,563.6h.01M624.8,556.2h.01M640.5,552.3h.01M616.7,548.4h.01M637.5,550.2h.01M635.1,558.9h.01M629.2,557.8h.01M635.1,562.5h.01M615.7,544.8h.01M619.8,553.0h.01M625.5,552.2h.01" fill="none" stroke="#2a2a2a" stroke-width="1.25" stroke-linecap="round"/><path d="M632.9,542.4h.01M641.1,565.8h.01M639.2,551.7h.01M632.6,548.7h.01M626.1,544.1h.01M616.4,544.0h.01M630.1,555.5h.01M623.5,550.6h.01M640.6,555.6h.01M631.2,559.8h.01M613.8,546.1h.01M612.4,547.3h.01M614.0,549.1h.01M633.2,549.3h.01M639.6,550.2h.01M623.8,550.0h.01M615.1,546.9h.01M641.4,561.6h.01M634.1,551.4h.01M622.6,550.2h.01M639.1,551.2h.01M622.0,546.5h.01M610.7,546.4h.01M620.5,547.0h.01M617.0,552.1h.01M608.2,542.4h.01M619.9,541.9h.01M631.8,553.5h.01M616.3,544.1h.01" fill="none" stroke="#777" stroke-width="1.05" stroke-linecap="round"/><path class="ln" d="M593.5,539.6L644,569.6"/>
<ellipse class="ln" style="stroke-width:0.9" cx="447.6" cy="558.9" rx="5.2" ry="2.6"/><ellipse class="ln" style="stroke-width:0.9" cx="580.2" cy="631.4" rx="5.2" ry="2.6"/>
<g transform="translate(435.5,620.7) scale(0.798) translate(-391.4,-187.2)"><use href="#mscrew2" transform="translate(612.5,356.5) rotate(26)"/><use href="#brk"/><use href="#mscrew" transform="translate(351.4,214.1) rotate(27)"/></g>
<path class="ln" style="stroke-width:1.15;stroke-dasharray:11 3.5;stroke-linecap:butt;stroke:#262626" d="M447.7,562V727M580.2,634.5V798.5"/>
<use href="#wscrew" transform="translate(447.8,727.6) scale(0.78)"/>
<use href="#wscrew" transform="translate(580.2,798.7) scale(0.78)"/>
<path class="ln" style="stroke-width:2.1;stroke-linecap:butt" d="M326.6,620.4L366.5,648.9"/>
<path class="ln" style="stroke-width:1.3" d="M362.5,637.2C363.1,636.0 365.4,632.1 366.2,629.7C367.0,627.4 367.5,625.0 367.1,623.1C366.7,621.2 365.1,619.4 363.8,618.2C362.6,617.0 361.5,615.9 359.6,616.1C357.7,616.3 354.9,617.3 352.2,619.4C349.4,621.5 345.9,625.1 343.1,628.9C340.4,632.7 337.4,638.1 335.7,642.1C334.0,646.1 333.2,650.2 333.2,652.8C333.2,655.4 334.4,656.8 335.7,657.8C336.9,658.8 338.8,659.3 340.7,659.0C342.6,658.7 345.2,658.0 347.3,656.1C349.4,654.2 351.7,650.0 353.0,647.9C354.3,645.8 354.8,644.5 355.1,643.8"/>
<path class="ln" style="stroke-width:1.3" d="M358.8,634.3C359.4,633.3 361.7,630.1 362.5,628.1C363.3,626.1 363.6,623.8 363.4,622.3C363.2,620.8 362.2,619.6 361.3,619.0C360.4,618.4 359.9,617.6 358.0,618.6C356.1,619.6 352.4,621.8 349.7,624.8C346.9,627.8 343.6,632.7 341.5,636.3C339.4,639.9 338.2,643.2 337.4,646.2C336.6,649.2 336.4,652.8 336.5,654.5C336.6,656.2 337.2,656.3 338.2,656.5C339.2,656.7 341.1,656.2 342.3,655.7C343.5,655.2 345.1,654.0 345.6,653.7M362.5,637.2L358.8,634.3M333.4,651.5L336.6,653.5"/>
<path d="M355.1,643.4L345.6,650L350.6,654.9Z" fill="#fff" stroke="#1c1c1c" stroke-width="1.2" stroke-linejoin="round"/>
<path d="M351.5,648.5L348.2,650.6L350.2,652.8Z" fill="#222"/>
<path class="lw" style="stroke-width:1.2" d="M370.2,645.4L364.4,652.8L390.6,665.9Z"/>
<path d="M348.1,899.6C348.7,898.8 348.9,896.2 351.4,894.6C353.9,893.0 356.9,891.2 363.0,889.7C369.1,888.2 379.4,886.7 387.7,885.6C395.9,884.5 403.3,883.9 412.5,883.1C421.7,882.4 437.7,881.4 442.7,881.1V902.6H427.3C426.3,903.2 422.7,904.9 421.5,906.2C420.3,907.5 419.9,908.8 419.9,910.3C419.9,911.8 420.4,913.9 421.5,915.3C422.6,916.7 425.7,918.0 426.5,918.6L454.5,916.9V880.6C460.4,880.5 478.4,880.2 490.0,880.1C501.6,880.0 507.0,879.5 524.0,879.9C541.0,880.2 572.4,880.8 592.0,882.2C611.6,883.6 630.1,886.7 641.4,888.2C652.7,889.7 656.9,890.5 660.0,891.0V980H348.1Z" fill="#fff"/>
<path class="ln" d="M348.1,972V899.6C348.7,898.8 348.9,896.2 351.4,894.6C353.9,893.0 356.9,891.2 363.0,889.7C369.1,888.2 379.4,886.7 387.7,885.6C395.9,884.5 403.3,883.9 412.5,883.1C421.7,882.4 437.7,881.4 442.7,881.1V902.6H427.3C426.3,903.2 422.7,904.9 421.5,906.2C420.3,907.5 419.9,908.8 419.9,910.3C419.9,911.8 420.4,913.9 421.5,915.3C422.6,916.7 425.7,918.0 426.5,918.6L454.5,916.9V880.6C460.4,880.5 478.4,880.2 490.0,880.1C501.6,880.0 507.0,879.5 524.0,879.9C541.0,880.2 572.4,880.8 592.0,882.2C611.6,883.6 630.1,886.7 641.4,888.2C652.7,889.7 656.9,890.5 660.0,891.0"/>
<path class="ln" style="stroke-width:0.8" d="M440.6,883V900.8H427.6C423,902 421.8,906.5 421.8,910.3C422,914 424,916.3 427,917"/>
<path class="ln" d="M348.1,968.9C350.6,967.9 355.0,965.0 363.0,963.1C371.0,961.2 385.0,958.8 396.0,957.3C407.0,955.8 418.6,954.8 429.0,954.0C439.4,953.2 448.5,953.1 458.7,952.7C468.9,952.4 473.4,951.8 490.0,951.9C506.6,952.0 539.7,952.9 558.0,953.6C576.3,954.3 586.1,954.9 600.0,956.0C613.9,957.1 631.4,959.1 641.4,960.3C651.4,961.5 656.9,962.5 660.0,963.0"/>
<path class="ln" d="M365.5,969.7C370.6,968.6 385.4,964.8 396.0,963.1C406.6,961.5 418.0,960.6 429.0,959.8C440.0,959.0 451.8,958.8 462.0,958.5C472.2,958.2 474.0,957.6 490.0,957.8C506.0,958.0 539.7,958.8 558.0,959.5C576.3,960.2 586.1,960.9 600.0,962.0C613.9,963.1 634.5,965.6 641.4,966.3"/>
</g>
<!-- panel 6 -->
<g clip-path="url(#c6)">
<path d="M645,520H800C805.0,527.7 821.7,529.5 830.0,531.0C838.3,532.5 844.3,534.4 850.0,536.0C855.7,537.6 859.2,538.8 864.4,540.7C869.5,542.6 876.2,545.1 880.9,547.3C885.6,549.5 889.5,551.8 892.5,553.9C895.5,556.0 897.7,557.9 899.1,559.7C900.5,561.5 900.4,563.8 900.7,564.6V610.8C900.7,611.9 901.0,615.2 900.4,617.4C899.8,619.6 898.7,621.9 897.4,624.0C896.1,626.1 894.1,628.4 892.5,629.8C890.9,631.2 888.3,631.9 887.5,632.3C885.6,633.4 880.7,636.8 876.0,638.9C871.3,641.0 864.6,643.1 859.5,644.6C854.4,646.1 852.3,646.6 845.1,647.9C837.9,649.2 824.6,651.3 816.3,652.5C808.0,653.7 803.2,654.2 795.2,655.0C787.2,655.8 778.1,656.8 768.5,657.3C758.9,657.8 748.2,657.9 737.5,657.8C726.8,657.7 715.1,657.4 704.5,656.7C693.9,656.0 681.9,654.4 673.6,653.4C665.4,652.4 659.8,651.3 655.0,650.5C650.2,649.7 646.7,648.8 645.0,648.5Z" fill="#fff"/>
<path class="ln" d="M800.0,527.0C805.0,527.7 821.7,529.5 830.0,531.0C838.3,532.5 844.3,534.4 850.0,536.0C855.7,537.6 859.2,538.8 864.4,540.7C869.5,542.6 876.2,545.1 880.9,547.3C885.6,549.5 889.5,551.8 892.5,553.9C895.5,556.0 897.7,557.9 899.1,559.7C900.5,561.5 900.4,563.8 900.7,564.6V610.8C900.7,611.9 901.0,615.2 900.4,617.4C899.8,619.6 898.7,621.9 897.4,624.0C896.1,626.1 894.1,628.4 892.5,629.8C890.9,631.2 888.3,631.9 887.5,632.3"/>
<path class="ln" d="M645.0,588.0C646.7,587.7 651.8,586.6 655.0,586.0C658.2,585.4 658.6,585.3 664.1,584.4C669.6,583.5 678.5,581.9 688.0,580.8C697.5,579.7 711.4,578.4 721.0,577.8C730.6,577.2 737.5,577.3 745.7,577.3C754.0,577.3 762.2,577.4 770.5,577.8C778.8,578.2 788.3,579.0 795.2,579.5C802.1,580.0 805.4,580.4 812.0,581.0C818.6,581.6 826.8,582.0 834.7,583.3C842.6,584.6 851.8,586.5 859.5,588.8C867.2,591.0 875.1,594.2 880.9,596.8C886.7,599.4 890.8,601.9 894.1,604.2C897.4,606.5 899.6,609.7 900.7,610.8"/>
<path class="ln" d="M645.0,594.0C646.7,593.7 651.8,592.6 655.0,592.0C658.2,591.4 658.6,591.1 664.1,590.2C669.6,589.3 678.5,587.5 688.0,586.4C697.5,585.3 711.4,584.1 721.0,583.6C730.6,583.1 737.5,583.1 745.7,583.1C754.0,583.1 762.2,583.2 770.5,583.6C778.8,584.0 788.3,584.8 795.2,585.3C802.1,585.8 805.4,586.1 812.0,586.8C818.6,587.5 826.8,587.9 834.7,589.3C842.6,590.6 851.8,592.5 859.5,594.9C867.2,597.2 875.4,600.6 880.9,603.4C886.4,606.2 890.0,609.3 892.5,611.6C895.0,613.9 895.7,615.3 896.1,617.4C896.5,619.5 896.4,621.5 895.0,624.0C893.6,626.5 890.7,629.8 887.5,632.3C884.3,634.8 880.7,636.8 876.0,638.9C871.3,641.0 864.6,643.1 859.5,644.6C854.4,646.1 852.3,646.6 845.1,647.9C837.9,649.2 824.6,651.3 816.3,652.5C808.0,653.7 803.2,654.2 795.2,655.0C787.2,655.8 778.1,656.8 768.5,657.3C758.9,657.8 748.2,657.9 737.5,657.8C726.8,657.7 715.1,657.4 704.5,656.7C693.9,656.0 681.9,654.4 673.6,653.4C665.4,652.4 659.8,651.3 655.0,650.5C650.2,649.7 646.7,648.8 645.0,648.5"/>
<use href="#lamp" transform="translate(658.9,606.4)"/>
<use href="#lamp" transform="translate(830.7,602.3)"/>
<use href="#lamp" transform="translate(753.2,641.8)"/>
<g transform="translate(658,805.4)"><path class="lw" d="M-21.5,46.0C-22.6,47.0 -25.8,49.5 -28.0,51.8C-30.2,54.1 -32.2,56.2 -34.5,59.7C-36.8,63.2 -39.9,68.6 -41.7,72.7C-43.5,76.8 -44.6,82.2 -45.3,84.3C-45.9,86.4 -45.5,85.4 -45.6,85.6H45.6C45.5,85.4 45.9,86.4 45.3,84.3C44.6,82.2 43.5,76.8 41.7,72.7C39.9,68.6 36.8,63.2 34.5,59.7C32.2,56.2 30.2,54.1 28.0,51.8C25.8,49.5 22.6,47.0 21.5,46.0Z"/><use href="#bulb"/></g>
<g transform="translate(846.6,816.3)"><path class="lw" d="M-22.0,46.0C-23.3,46.8 -27.2,48.5 -30.0,50.6C-32.8,52.7 -36.4,55.8 -38.7,58.6C-41.0,61.4 -42.4,64.2 -43.6,67.3C-44.8,70.4 -45.5,74.2 -46.1,77.2C-46.7,80.2 -46.9,84.2 -47.1,85.6H47.1C46.9,84.2 46.7,80.2 46.1,77.2C45.5,74.2 44.8,70.4 43.6,67.3C42.4,64.2 41.0,61.4 38.7,58.6C36.4,55.8 32.8,52.7 30.0,50.6C27.2,48.5 23.3,46.8 22.0,46.0Z"/><use href="#bulb"/></g>
<g transform="translate(753.4,858)"><path class="lw" d="M-22.0,46.0C-23.3,46.8 -27.2,48.5 -30.0,50.6C-32.8,52.7 -36.4,55.8 -38.7,58.6C-41.0,61.4 -42.4,64.2 -43.6,67.3C-44.8,70.4 -45.5,74.2 -46.1,77.2C-46.7,80.2 -46.9,84.2 -47.1,85.6H47.1C46.9,84.2 46.7,80.2 46.1,77.2C45.5,74.2 44.8,70.4 43.6,67.3C42.4,64.2 41.0,61.4 38.7,58.6C36.4,55.8 32.8,52.7 30.0,50.6C27.2,48.5 23.3,46.8 22.0,46.0Z"/><use href="#bulb"/></g>
<path class="ln" style="stroke-width:1.6;stroke-linecap:butt" d="M910.4,851V894.7"/>
<path class="lw" style="stroke-width:1.1" d="M911.2,829.6L907,851H914.6Z"/>
<path class="ln" style="stroke-width:1.3" d="M905,859.8C897.5,861 892.6,863.3 892.6,866C892.6,869.9 901,872.6 911.2,872.6C921.4,872.6 929.6,869.9 929.6,866C929.6,863.4 926,861.3 920.5,860.2M905.3,862.8C898.5,863.8 892.6,865.8 892.6,869C892.6,872.9 901,875.6 911.2,875.6C921.4,875.6 929.6,872.9 929.6,869V866M905,859.8L905.3,862.8"/>
<path class="lw" style="stroke-width:1.1" d="M912,862.2L921.2,859.6V865.2Z"/><path d="M917.5,862.3L921,861.1V864Z" fill="#222"/>
</g>
<!-- frames -->
<path class="frame" d="M307.5,71.8H122.4A132,132 0 0 0 -9.6,203.8V372.9A132,132 0 0 0 122.4,504.9H307.5Z"/>
<rect class="frame" x="325.5" y="71.8" width="318.6" height="433.1"/>
<path class="frame" d="M662.5,71.8H847.6A132,132 0 0 1 979.6,203.8V372.9A132,132 0 0 1 847.6,504.9H662.5Z"/>
<path class="frame" d="M307.5,538.8H122.4A132,132 0 0 0 -9.6,670.8V839.8A132,132 0 0 0 122.4,971.8H307.5Z"/>
<rect class="frame" x="325.5" y="538.8" width="318.6" height="433.1"/>
<path class="frame" d="M662.5,538.8H847.6A132,132 0 0 1 979.6,670.8V839.8A132,132 0 0 1 847.6,971.8H662.5Z"/>
<!-- badges -->
<circle class="badge" cx="175" cy="479.7" r="25.2"/><path d="M179.4,468.0L173.7,468.0L166.2,473.3L166.2,475.9L171.7,475.9L171.7,494.1L179.4,494.1Z" fill="#fff"/>
<circle class="badge" cx="485" cy="479.7" r="25.2"/><text x="485" y="492.9" transform="translate(485,0) scale(1.1,1) translate(-485,0)" style="font-family:'Liberation Sans',sans-serif;font-weight:bold;font-size:37px;fill:#fff;stroke:#fff;stroke-width:1.1;text-anchor:middle">2</text>
<circle class="badge" cx="797.5" cy="479.7" r="25.2"/><text x="797.5" y="492.9" transform="translate(797.5,0) scale(1.1,1) translate(-797.5,0)" style="font-family:'Liberation Sans',sans-serif;font-weight:bold;font-size:37px;fill:#fff;stroke:#fff;stroke-width:1.1;text-anchor:middle">3</text>
<circle class="badge" cx="175" cy="947" r="25.2"/><text x="175" y="960.2" transform="translate(175,0) scale(1.1,1) translate(-175,0)" style="font-family:'Liberation Sans',sans-serif;font-weight:bold;font-size:37px;fill:#fff;stroke:#fff;stroke-width:1.1;text-anchor:middle">4</text>
<circle class="badge" cx="485" cy="947" r="25.2"/><text x="485" y="960.2" transform="translate(485,0) scale(1.1,1) translate(-485,0)" style="font-family:'Liberation Sans',sans-serif;font-weight:bold;font-size:37px;fill:#fff;stroke:#fff;stroke-width:1.1;text-anchor:middle">5</text>
<circle class="badge" cx="797.4" cy="946.6" r="25.2"/><path d="M805.52,933.72 C799.53,934.44 793.75,937.47 790.14,942.53 C787.26,946.86 786.39,952.63 788.56,957.10 C790.72,961.14 795.20,962.16 798.95,961.36 C804.00,960.28 807.97,956.38 807.97,951.19 C807.97,946.13 804.72,942.38 800.25,942.38 C798.08,942.38 796.28,943.46 795.05,945.12 C795.92,941.08 799.53,937.26 805.73,935.38 ZM797.36,947.07 C795.34,947.43 794.33,950.46 794.47,953.35 C794.69,956.38 795.92,958.40 797.58,958.26 C799.31,958.04 800.18,955.52 800.03,952.63 C799.89,949.74 799.02,947.07 797.36,947.07 Z" fill="#fff" fill-rule="evenodd"/>
</svg>
</body></html>
